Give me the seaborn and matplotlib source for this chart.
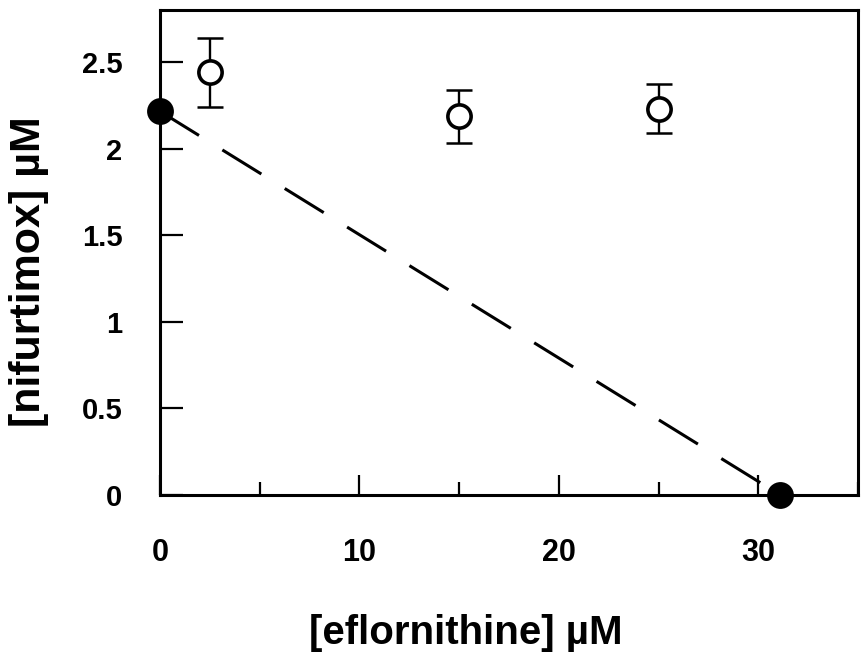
import matplotlib
matplotlib.use("Agg")
import matplotlib.pyplot as plt
import seaborn as sns
import numpy as np
import pandas as pd
from matplotlib.ticker import MultipleLocator

# data
combo_x = [2.5, 15, 25]
combo_y = [2.44, 2.19, 2.23]
combo_err_low = [0.20, 0.16, 0.14]
combo_err_high = [0.20, 0.15, 0.14]

single_x = [0, 31.1]
single_y = [2.215, 0]

x_label = "[eflornithine] µM"
y_label = "[nifurtimox] µM"

sns.set_style("ticks")
plt.rcParams["font.family"] = ["Liberation Sans", "DejaVu Sans"]
plt.rcParams["font.weight"] = "bold"
for k in ["text.color", "axes.labelcolor", "xtick.color", "ytick.color",
          "xtick.labelcolor", "ytick.labelcolor", "axes.edgecolor"]:
    plt.rcParams[k] = "black"

fig = plt.figure(figsize=(8.68, 6.67), dpi=100)
ax = fig.add_axes([160/868, 1 - 495/667, 698/868, 485/667])

line_df = pd.DataFrame({"x": single_x, "y": single_y})
sns.lineplot(data=line_df, x="x", y="y", ax=ax, color="black", lw=2.2,
             dashes=False, zorder=2)
ax.lines[-1].set_dashes([15, 9])

ax.errorbar(combo_x, combo_y, yerr=[combo_err_low, combo_err_high], fmt="none",
            ecolor="black", elinewidth=1.7, capsize=9.5, capthick=1.8, zorder=3)
combo_df = pd.DataFrame({"x": combo_x, "y": combo_y})
sns.scatterplot(data=combo_df, x="x", y="y", ax=ax, s=280, facecolor="white",
                edgecolor="black", linewidth=2.6, zorder=4, clip_on=False)
sns.scatterplot(data=line_df, x="x", y="y", ax=ax, s=320, color="black",
                edgecolor="black", zorder=5, clip_on=False)

ax.set_xlim(0, 35)
ax.set_ylim(0, 2.8)
ax.xaxis.set_minor_locator(MultipleLocator(5))
ax.set_yticks([0, 0.5, 1, 1.5, 2, 2.5])
ax.set_yticklabels(["0", "0.5", "1", "1.5", "2", "2.5"])
ax.set_xticks([0, 10, 20, 30])
ax.set_xticklabels(["0", "10", "20", "30"])

for s in ax.spines.values():
    s.set_linewidth(2.2)
    s.set_color("black")

ax.tick_params(axis="x", which="major", direction="in", length=14.5, width=1.6,
               pad=31, labelsize=22, colors="black")
ax.tick_params(axis="x", which="minor", direction="in", length=9.5, width=1.6,
               colors="black")
ax.tick_params(axis="y", which="major", direction="in", length=16.5, width=1.6,
               pad=27, labelsize=21, colors="black")
for lab in ax.get_xticklabels() + ax.get_yticklabels():
    lab.set_fontweight("bold")

ax.set_xlabel(x_label, fontsize=29, fontweight="bold", color="black")
ax.set_ylabel(y_label, fontsize=31, fontweight="bold", color="black")
ax.xaxis.set_label_coords((466 - 160) / 698, (495 - 633) / 485)
ax.xaxis.label.set_va("center")
ax.yaxis.set_label_coords((29 - 160) / 698, (495 - 272) / 485)
ax.yaxis.label.set_va("center")

fig.savefig("out.png", dpi=100, facecolor="white")
